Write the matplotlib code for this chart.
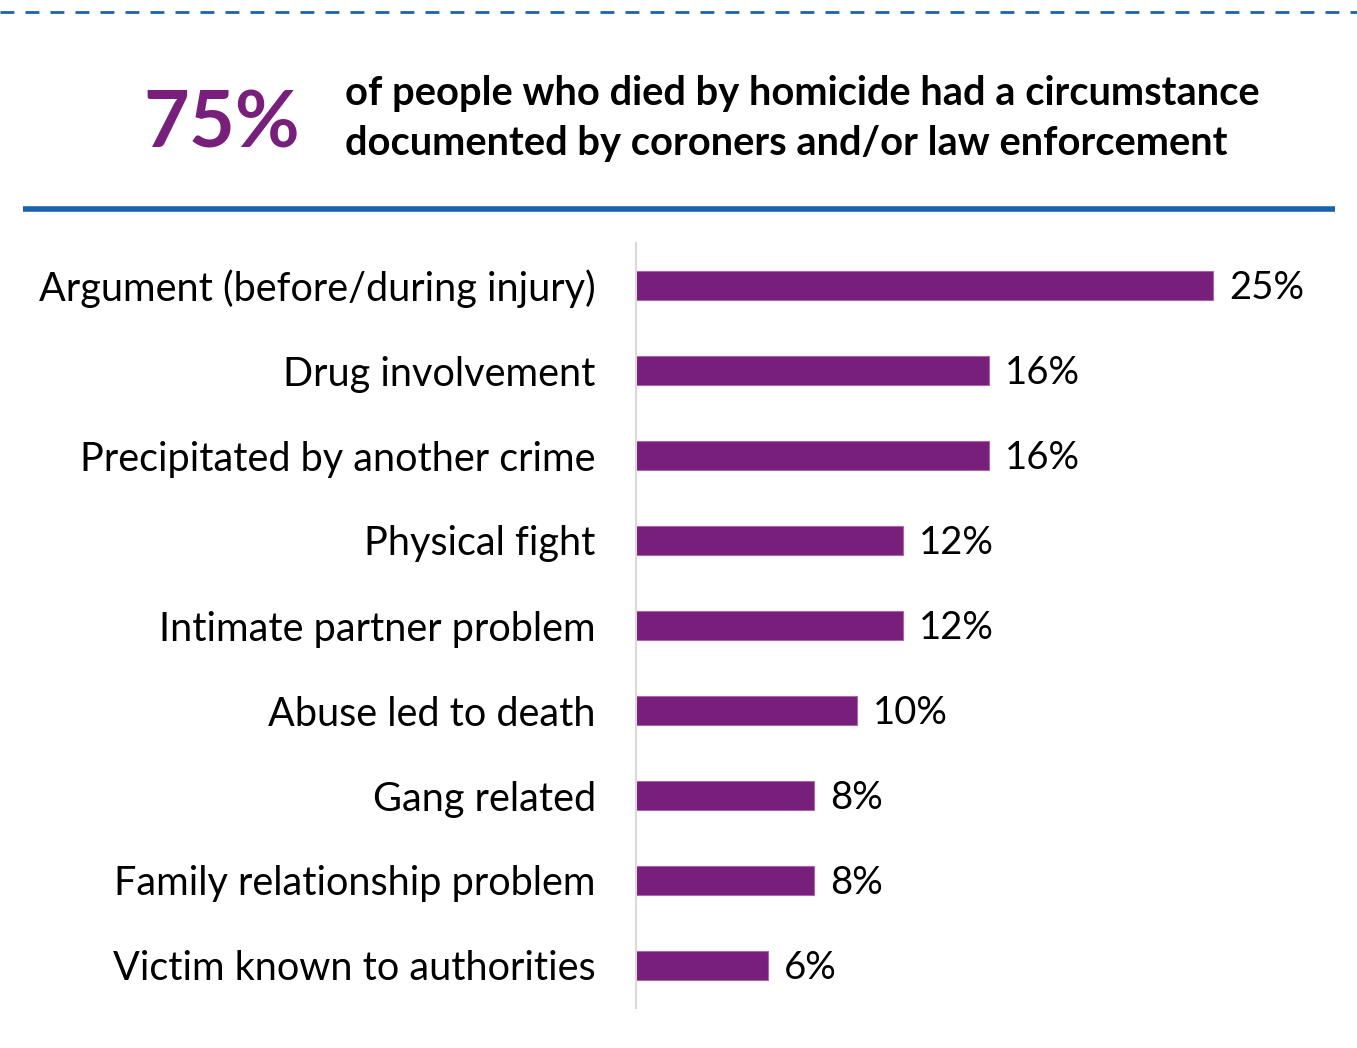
import matplotlib
matplotlib.use("Agg")
import matplotlib.pyplot as plt
from matplotlib.lines import Line2D

categories = [
    "Argument (before/during injury)",
    "Drug involvement",
    "Precipitated by another crime",
    "Physical fight",
    "Intimate partner problem",
    "Abuse led to death",
    "Gang related",
    "Family relationship problem",
    "Victim known to authorities",
]
values = [25.3, 15.5, 15.5, 11.7, 11.7, 9.7, 7.8, 7.8, 5.8]
value_labels = ["25%", "16%", "16%", "12%", "12%", "10%", "8%", "8%", "6%"]
headline_value = "75%"
headline_text = ["of people who died by homicide had a circumstance",
                 "documented by coroners and/or law enforcement"]

PURPLE = "#781E7B"
BLUE = "#1B62AE"
FONT = "Lato"

W, H = 1357, 1048
fig = plt.figure(figsize=(W / 100, H / 100), dpi=100)
fig.patch.set_facecolor("white")

# header decorations
fig.add_artist(Line2D([0, 1], [1 - 12 / H, 1 - 12 / H], transform=fig.transFigure,
                      color=BLUE, lw=2, linestyle=(0, (5, 4))))
fig.add_artist(Line2D([23 / W, 1335 / W], [1 - 209 / H, 1 - 209 / H], transform=fig.transFigure,
                      color=BLUE, lw=4, solid_capstyle="butt"))

fig.text(143 / W, 1 - 125 / H, headline_value, color=PURPLE, fontsize=57,
         fontweight="bold", family=FONT, ha="left", va="center")
fig.text(345 / W, 1 - 93 / H, headline_text[0], color="black", fontsize=28.7,
         fontweight="bold", family=FONT, ha="left", va="center")
fig.text(345 / W, 1 - 144 / H, headline_text[1], color="black", fontsize=28.7,
         fontweight="bold", family=FONT, ha="left", va="center")

ax = fig.add_axes([636 / W, 40 / H, 704 / W, 765 / H])
y = list(range(len(categories)))
ax.barh(y, values, height=0.34, color=PURPLE, edgecolor="#A865AA", linewidth=0.8)
ax.set_ylim(len(categories) - 0.5, -0.5)
ax.set_xlim(0, 704 / 22.8)
for yi, v, lab in zip(y, values, value_labels):
    ax.text(v + 0.7, yi + 0.03, lab, va="center", ha="left", fontsize=27.5, family=FONT)
ax.set_yticks(y)
ax.set_yticklabels(categories, fontsize=28.5, family=FONT)
ax.tick_params(axis="y", length=0, pad=29)
ax.set_xticks([])
for s in ["top", "right", "bottom"]:
    ax.spines[s].set_visible(False)
ax.spines["left"].set_color("#D9D9D9")
ax.spines["left"].set_linewidth(1.5)

fig.savefig("out.png", dpi=100, facecolor="white")
